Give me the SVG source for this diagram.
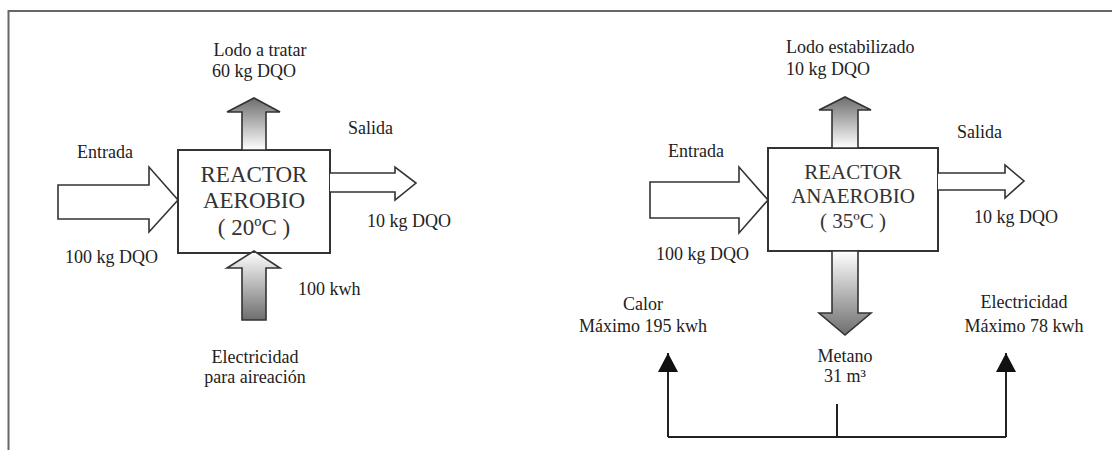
<svg xmlns="http://www.w3.org/2000/svg" width="1112" height="450" viewBox="0 0 1112 450">
<defs>
<linearGradient id="gUp" x1="0" y1="0" x2="0" y2="1">
<stop offset="0" stop-color="#6e6e6e"/><stop offset="1" stop-color="#ffffff"/>
</linearGradient>
<linearGradient id="gDown" x1="0" y1="0" x2="0" y2="1">
<stop offset="0" stop-color="#ffffff"/><stop offset="1" stop-color="#6e6e6e"/>
</linearGradient>
<marker id="tri" markerWidth="20" markerHeight="20" refX="19" refY="10" viewBox="0 0 20 20" orient="auto" markerUnits="userSpaceOnUse">
<path d="M0,0 L19,10 L0,20 Z" fill="#111"/>
</marker>
<style>
.t{font-family:"Liberation Serif","Times New Roman",serif;font-size:18px;fill:#222}
.big{font-family:"Liberation Serif","Times New Roman",serif;font-size:23px;fill:#333}
.big2{font-family:"Liberation Serif","Times New Roman",serif;font-size:21px;fill:#333}
.box{fill:#fff;stroke:#333;stroke-width:2}
.ha{fill:#fff;stroke:#333;stroke-width:1.6;stroke-linejoin:miter}
.ga{stroke:#333;stroke-width:1.6}
.ln{fill:none;stroke:#222;stroke-width:2}
.frame{fill:none;stroke:#666;stroke-width:2}
</style>
</defs>
<rect width="1112" height="450" fill="#fff"/>
<path class="frame" d="M8.5,450 L8.5,11 L1112,11"/>

<g id="left-reactor">
<rect class="box" x="178" y="150" width="152" height="103"/>
<text class="big" x="254" y="182" text-anchor="middle">REACTOR</text>
<text class="big" x="254" y="208" text-anchor="middle">AEROBIO</text>
<text class="big" x="254" y="235" text-anchor="middle">( 20ºC )</text>
</g>
<g id="left-entrada">
<path class="ha" d="M58,185 L149,185 L149,167 L178,200 L149,232 L149,219 L58,219 Z"/>
<text class="t" x="77" y="158">Entrada</text>
<text class="t" x="65" y="263">100 kg DQO</text>
</g>
<g id="left-salida">
<path class="ha" d="M330,173 L395,173 L395,167 L416,183 L395,200 L395,192 L330,192"/>
<text class="t" x="348" y="134">Salida</text>
<text class="t" x="367" y="227">10 kg DQO</text>
</g>
<g id="left-lodo">
<path class="ga" fill="url(#gUp)" d="M242,150 L242,112 L227,112 L254,98 L280,112 L266,112 L266,150 Z"/>
<text class="t" x="260" y="56" text-anchor="middle">Lodo a tratar</text>
<text class="t" x="212" y="77">60 kg DQO</text>
</g>
<g id="left-electricidad">
<path class="ga" fill="url(#gDown)" d="M242,320 L242,268 L227,268 L254,251 L280,268 L266,268 L266,320 Z"/>
<text class="t" x="298" y="295">100 kwh</text>
<text class="t" x="255" y="363" text-anchor="middle">Electricidad</text>
<text class="t" x="255" y="383" text-anchor="middle">para aireación</text>
</g>

<g id="right-reactor">
<rect class="box" x="768" y="148" width="170" height="103"/>
<text class="big2" x="853" y="179" text-anchor="middle">REACTOR</text>
<text class="big2" x="853" y="203" text-anchor="middle">ANAEROBIO</text>
<text class="big2" x="853" y="228" text-anchor="middle">( 35ºC )</text>
</g>
<g id="right-entrada">
<path class="ha" d="M650,182 L739,182 L739,167 L768,200 L739,233 L739,218 L650,218 Z"/>
<text class="t" x="668" y="157">Entrada</text>
<text class="t" x="656" y="260">100 kg DQO</text>
</g>
<g id="right-salida">
<path class="ha" d="M938,173 L1005,173 L1005,165 L1024,181 L1005,198 L1005,190 L938,190"/>
<text class="t" x="957" y="138">Salida</text>
<text class="t" x="974" y="223">10 kg DQO</text>
</g>
<g id="right-lodo">
<path class="ga" fill="url(#gUp)" d="M832,148 L832,110 L819,110 L845,97 L871,110 L858,110 L858,148 Z"/>
<text class="t" x="786" y="53">Lodo estabilizado</text>
<text class="t" x="786" y="75">10 kg DQO</text>
</g>
<g id="right-metano">
<path class="ga" fill="url(#gDown)" d="M832,251 L832,313 L819,313 L845,335 L871,313 L858,313 L858,251 Z"/>
<text class="t" x="845" y="362" text-anchor="middle">Metano</text>
<text class="t" x="845" y="382" text-anchor="middle">31 m³</text>
</g>
<g id="right-calor">
<text class="t" x="643" y="310" text-anchor="middle">Calor</text>
<text class="t" x="643" y="332" text-anchor="middle">Máximo 195 kwh</text>
</g>
<g id="right-electricidad">
<text class="t" x="1024" y="308" text-anchor="middle">Electricidad</text>
<text class="t" x="1024" y="332" text-anchor="middle">Máximo 78 kwh</text>
</g>

<g id="connectors">
<path class="ln" d="M837,404 L837,437"/>
<path class="ln" d="M668,437 L1006,437"/>
<path class="ln" d="M668,437 L668,353" marker-end="url(#tri)"/>
<path class="ln" d="M1006,437 L1006,353" marker-end="url(#tri)"/>
</g>
</svg>
